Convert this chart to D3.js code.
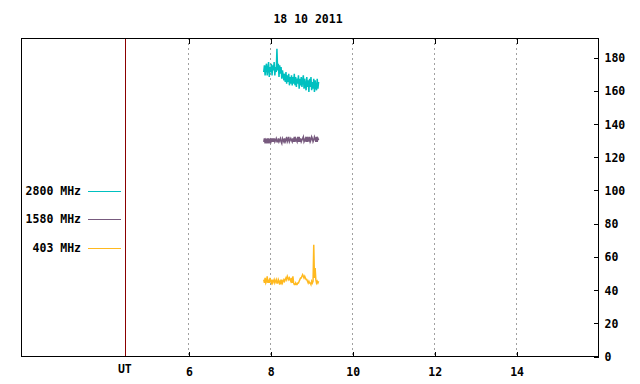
<!DOCTYPE html>
<html>
<head>
<meta charset="utf-8">
<script src="https://cdn.jsdelivr.net/npm/d3@7"></script>
<style>
  body { margin: 0; background: #fff; }
  text { font-family: "DejaVu Sans Mono", "Liberation Mono", monospace; font-weight: bold; font-size: 11.5px; fill: #000; }
</style>
</head>
<body>
<div id="chart-area"></div>
<script>
// data
const title = "18 10 2011"
const xTicks = [6, 8, 10, 12, 14]
const yTicks = [0, 20, 40, 60, 80, 100, 120, 140, 160, 180]
const utHour = 4.45
const startHour = 7.84
const endHour = 9.18

const freqs = ["2800 MHz", "1580 MHz", "403 MHz"]
const freqColours = ["#00c0c0", "#775a7e", "#ffb91f"]

const flux2800 = [171,175,169,174,176,169,173,177,168,174,171,176,169,175,172,177,169,174,171,185,
  172,176,168,175,170,174,167,172,169,166,
  170,165,171,164,169,165,170,163,168,164,169,163,168,164,170,
  163,168,162,167,164,169,161,167,163,168,162,166,169,161,167,163,160,168,162,166,
  159,167,162,168,160,165,161,167,159,166,162,160,167,161,165]

const flux1580 = [129,131,128,130,129,131,128,131,129,130,128,131,129,131,129,131,129,130,131,129,
  129,131,129,130,131,129,128,131,130,129,131,129,130,132,129,130,132,129,130,131,
  130,129,131,129,132,129,131,130,129,132,129,132,129,131,129,130,131,132,129,130,
  131,129,132,129,131,130,132,129,130,132,131,129,130,132,131,129,132,129,131,130]

const flux403 = [46,44,47,44,45,48,44,46,44,47,
  45,44,46,44,45,46,44,45,46,44,
  44,46,45,43,45,44,46,44,45,46,
  45,46,47,46,48,47,46,47,46,45,
  47,44,48,44,43,43,44,43,43,44,
  44,45,46,47,47,48,49,48,47,48,
  47,46,46,45,44,45,44,44,43,45,
  44,45,67,47,53,46,44,45,44,45]

const series = [flux2800, flux1580, flux403]

const margin = {top: 38, right: 42, bottom: 28, left: 21},
      width = 640 - margin.left - margin.right,
      height = 384 - margin.top - margin.bottom;

const svg = d3.select("#chart-area")
  .append("svg")
    .attr("width", width + margin.left + margin.right)
    .attr("height", height + margin.top + margin.bottom)
  .append("g")
    .attr("transform", `translate(${margin.left},${margin.top})`);

const x = d3.scaleLinear().domain([1.915, 16]).range([0, width])
const y = d3.scaleLinear().domain([0, 191.5]).range([height, 0])

// dashed grid at hour ticks
svg.selectAll(".grid")
  .data(xTicks)
  .join("line")
    .attr("x1", d => Math.round(x(d)) + 0.5)
    .attr("x2", d => Math.round(x(d)) + 0.5)
    .attr("y1", 0)
    .attr("y2", height)
    .attr("stroke", "#a0a0a0")
    .attr("stroke-dasharray", "2,3")
    .attr("shape-rendering", "crispEdges")

// UT marker line
svg.append("line")
  .attr("x1", Math.round(x(utHour)) + 0.5)
  .attr("x2", Math.round(x(utHour)) + 0.5)
  .attr("y1", 0)
  .attr("y2", height)
  .attr("stroke", "#8b0000")
  .attr("shape-rendering", "crispEdges")

// series
const step = (endHour - startHour) / (flux2800.length - 1)
const line = d3.line()
  .x((d, i) => x(startHour + i * step))
  .y(d => y(d))

series.forEach((s, k) => {
  svg.append("path")
    .datum(s)
    .attr("fill", "none")
    .attr("stroke", freqColours[k])
    .attr("stroke-width", 1.5)
    .attr("d", line)
})

// border
svg.append("rect")
  .attr("x", 0.5).attr("y", 0.5)
  .attr("width", width).attr("height", height)
  .attr("fill", "none")
  .attr("stroke", "#000")
  .attr("shape-rendering", "crispEdges")

// x ticks, bottom and top, pointing inward
const xb = svg.append("g")
  .attr("transform", `translate(0.5, ${height + 0.5})`)
  .call(d3.axisBottom(x).tickValues(xTicks).tickSizeInner(-5).tickSizeOuter(0).tickPadding(10))
xb.select(".domain").remove()
xb.selectAll("text").attr("dy", "0.85em")

const xt = svg.append("g")
  .attr("transform", "translate(0.5, 0.5)")
  .call(d3.axisTop(x).tickValues(xTicks).tickSize(-5).tickFormat(""))
xt.select(".domain").remove()

// y ticks on the right
const yr = svg.append("g")
  .attr("transform", `translate(${width + 0.5}, 0.5)`)
  .call(d3.axisRight(y).tickValues(yTicks).tickSizeInner(-5).tickSizeOuter(0).tickPadding(6))
yr.select(".domain").remove()
yr.selectAll("text").attr("dy", "0.35em")

svg.selectAll(".tick line").attr("stroke", "#000").attr("shape-rendering", "crispEdges")
svg.selectAll(".tick text")
  .attr("font-family", null).attr("font-size", null)

// UT label
svg.append("text")
  .attr("x", x(utHour))
  .attr("y", height + 17)
  .attr("text-anchor", "middle")
  .text("UT")

// title
svg.append("text")
  .attr("x", 287)
  .attr("y", -15)
  .attr("text-anchor", "middle")
  .text(title)

// legend
const legendY = [153, 181, 210]
freqs.forEach((f, k) => {
  const row = svg.append("g").attr("transform", `translate(0, ${legendY[k]})`)
  row.append("text")
    .attr("x", 60)
    .attr("y", 4)
    .attr("text-anchor", "end")
    .text(f)
  row.append("line")
    .attr("x1", 67).attr("x2", 100)
    .attr("y1", 0.5).attr("y2", 0.5)
    .attr("stroke", freqColours[k])
    .attr("shape-rendering", "crispEdges")
})
</script>
</body>
</html>
